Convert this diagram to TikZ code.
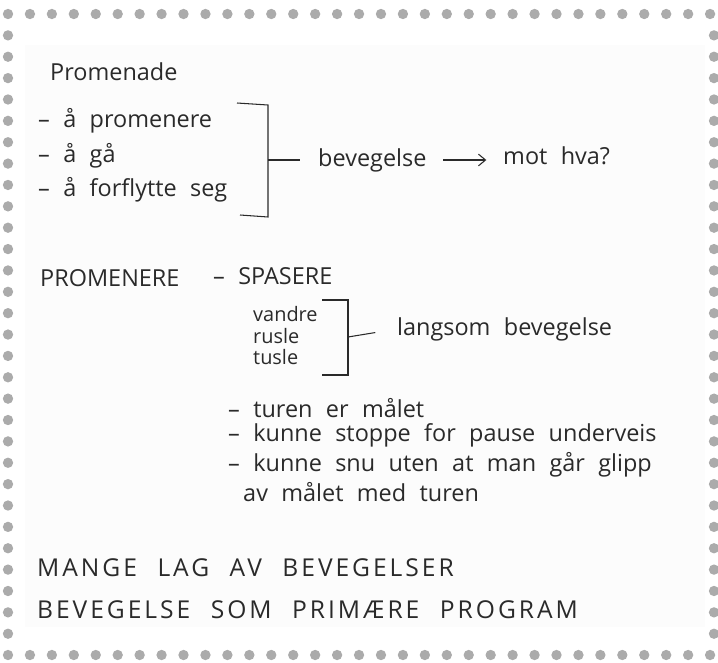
\documentclass[tikz,border=0pt]{standalone}
\usepackage{fontspec}
\setmainfont{Open Sans}[WordSpace=2.2]
\usetikzlibrary{arrows.meta}
\definecolor{ink}{HTML}{2A2A2A}
\definecolor{dotgray}{HTML}{ABABAB}
\definecolor{paper}{HTML}{FCFCFC}
\tikzset{
  note/.style={anchor=west, inner sep=0pt, text=ink, font=\fontsize{20}{24}\selectfont},
  small/.style={note, font=\fontsize{17}{20}\selectfont},
  caps/.style={note, font=\fontsize{21}{24}\selectfont\addfontfeature{LetterSpace=12}},
  pen/.style={draw=ink, line width=0.9pt},
  dot/.style={fill=dotgray}
}
\begin{document}
\begin{tikzpicture}[x=0.03cm, y=-0.03cm]
    \useasboundingbox (0,0) rectangle (718,662);
    % Paper
    \fill[paper] (25,45) rectangle (705,627);

    % Dotted border
    \foreach \i in {0,...,32} {
        \fill[dot] (8+\i*21.94,14) circle[radius=0.155cm];
        \fill[dot] (8+\i*21.94,655) circle[radius=0.155cm];
    }
    \foreach \j in {1,...,29} {
        \fill[dot] (8,14+\j*21.37) circle[radius=0.155cm];
        \fill[dot] (714,14+\j*21.37) circle[radius=0.155cm];
    }

    % Heading and first list
    \node[note] (T) at (50,72) {Promenade};
    \node[note] (A1) at (38,121) {– å promenere};
    \node[note] (A2) at (38,156) {– å gå};
    \node[note] (A3) at (38,190) {– å forflytte seg};

    % Bracket 1
    \coordinate (B1m) at (268,160);
    \draw[pen] (237,103) -- (268,105) -- (268,217) -- (240,215);
    \node[note] (BV) at (318,160) {bevegelse};
    \draw[pen, shorten >=0.54cm] (B1m) -- (BV.west);
    \node[note] (MH) at (503,156) {mot hva?};
    \draw[pen, -{Straight Barb[length=6pt, width=10pt]}, shorten <=0.5cm, shorten >=0.5cm] (BV.east) -- (MH.west |- BV.east);

    % Second block
    \node[note] (P) at (40,278) {PROMENERE};
    \node[note] (S) at (213,276) {– SPASERE};
    \node[small] (V1) at (253,314) {vandre};
    \node[small] (V2) at (253,336) {rusle};
    \node[small] (V3) at (253,357) {tusle};

    % Bracket 2
    \coordinate (B2m) at (348,337);
    \draw[pen] (322,300) -- (348,300) -- (348,375) -- (322,375);
    \node[note] (LB) at (397,329) {langsom bevegelse};
    \draw[pen, shorten >=0.66cm] (B2m) -- (LB.west);

    % Notes
    \node[note] (N1) at (228,408) {– turen er målet};
    \node[note] (N2) at (228,435) {– kunne stoppe for pause underveis};
    \node[note] (N3) at (228,465) {– kunne snu uten at man går glipp};
    \node[note] (N4) at (243,492) {av målet med turen};

    % Bottom lines
    \node[caps] (M1) at (37,568) {MANGE LAG AV BEVEGELSER};
    \node[caps] (M2) at (37,610) {BEVEGELSE SOM PRIMÆRE PROGRAM};
\end{tikzpicture}
\end{document}
